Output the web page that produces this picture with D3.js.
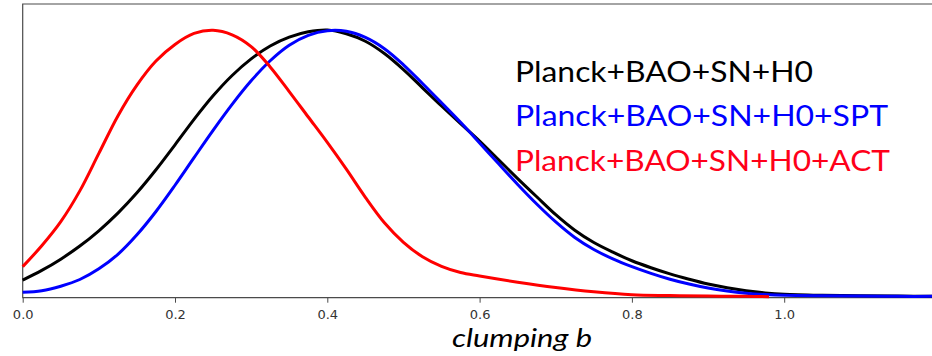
<!DOCTYPE html>
<html><head><meta charset="utf-8">
<script src="https://cdn.jsdelivr.net/npm/d3@7"></script>
<style>html,body{margin:0;padding:0;background:#fff;}svg{display:block;}</style>
</head><body>
<svg id="chart" width="932" height="356"></svg>
<script>
const xTicks = [0.0, 0.2, 0.4, 0.6, 0.8, 1.0];
const seriesNames = ["Planck+BAO+SN+H0", "Planck+BAO+SN+H0+SPT", "Planck+BAO+SN+H0+ACT"];
const seriesColors = ["#000000", "#0000ff", "#ff0000"];
const legendColors = ["#000000", "#0000ff", "#ff0019"];
const xLabel = "clumping b";

const bBase = [0.000,0.025,0.050,0.075,0.100,0.125,0.150,0.175,0.200,0.225,0.250,0.275,0.300,0.325,0.350,0.375,0.400,0.425,0.450,0.475,0.500,0.525,0.550,0.575,0.600,0.625,0.650,0.675,0.700,0.725,0.750,0.775,0.800,0.825,0.850,0.875,0.900,0.925,0.950,0.975,1.000,1.050,1.100,1.150,1.200];
const blackVals = [0.066,0.102,0.144,0.193,0.250,0.316,0.392,0.478,0.571,0.666,0.754,0.830,0.892,0.940,0.973,0.993,1.000,0.986,0.958,0.912,0.852,0.784,0.716,0.650,0.585,0.515,0.445,0.377,0.310,0.252,0.206,0.170,0.138,0.112,0.089,0.069,0.051,0.037,0.026,0.018,0.013,0.009,0.007,0.006,0.005];
const blueVals  = [0.020,0.026,0.043,0.068,0.108,0.162,0.235,0.322,0.420,0.523,0.625,0.722,0.810,0.885,0.943,0.980,0.997,0.995,0.972,0.930,0.870,0.800,0.728,0.655,0.578,0.500,0.423,0.350,0.283,0.225,0.180,0.145,0.116,0.091,0.069,0.051,0.036,0.025,0.017,0.012,0.009,0.007,0.006,0.005,0.005];
const bRed = [0.000,0.025,0.050,0.075,0.100,0.125,0.150,0.175,0.200,0.225,0.250,0.275,0.300,0.325,0.350,0.375,0.400,0.425,0.450,0.475,0.500,0.525,0.550,0.575,0.600,0.650,0.700,0.750,0.800,0.850,0.900,0.950,0.980];
const redVals = [0.116,0.194,0.284,0.399,0.539,0.679,0.794,0.884,0.946,0.987,0.999,0.982,0.938,0.862,0.770,0.675,0.580,0.480,0.375,0.280,0.207,0.153,0.117,0.094,0.081,0.058,0.038,0.022,0.011,0.008,0.006,0.005,0.004];

const svg = d3.select("#chart");
const pLeft = 22.7, pTop = 4, pBottom = 297.7, pRight = 936.5;
const x = d3.scaleLinear().domain([0, 1.2]).range([pLeft, pRight]);
const y = d3.scaleLinear().domain([0, 1.097]).range([pBottom, pTop]);

// frame
svg.append("path")
  .attr("d", `M${pRight},${pTop}H${pLeft}V${pBottom}H${pRight}`)
  .attr("fill", "none").attr("stroke", "#4a4a4a").attr("stroke-width", 1.2);

// x axis
const xAxis = d3.axisBottom(x).tickValues(xTicks).tickFormat(d3.format(".1f")).tickSize(5).tickPadding(7.5);
const gx = svg.append("g").attr("transform", `translate(0,${pBottom})`).call(xAxis);
gx.select(".domain").remove();
gx.selectAll(".tick line").attr("stroke", "#4a4a4a");
gx.selectAll(".tick text").attr("fill", "#333").style("font-family", "DejaVu Sans").style("font-size", "13px");

const line = d3.line().x(d => x(d[0])).y(d => y(d[1])).curve(d3.curveCatmullRom.alpha(0.5));
const datasets = [
  bBase.map((b, i) => [b, blackVals[i]]),
  bBase.map((b, i) => [b, blueVals[i]]),
  bRed.map((b, i) => [b, redVals[i]])
];
datasets.forEach((data, i) => {
  svg.append("path").datum(data)
    .attr("d", line)
    .attr("fill", "none")
    .attr("stroke", seriesColors[i])
    .attr("stroke-width", 3)
    .attr("stroke-linejoin", "round");
});

// legend text
const legendY = [81.7, 126.4, 171.1];
const legendW = [298, 373, 375];
seriesNames.forEach((name, i) => {
  svg.append("text")
    .attr("x", 515).attr("y", legendY[i])
    .attr("fill", legendColors[i])
    .attr("textLength", legendW[i])
    .attr("lengthAdjust", "spacingAndGlyphs")
    .style("font-family", "Lato")
    .style("font-size", "28.5px")
    .text(name);
});

// x label
svg.append("text")
  .attr("x", 452).attr("y", 346.5)
  .attr("textLength", 140)
  .attr("lengthAdjust", "spacingAndGlyphs")
  .style("font-family", "Lato")
  .style("font-style", "italic")
  .style("font-size", "26px")
  .attr("fill", "#000")
  .text(xLabel);
</script>
</body></html>
